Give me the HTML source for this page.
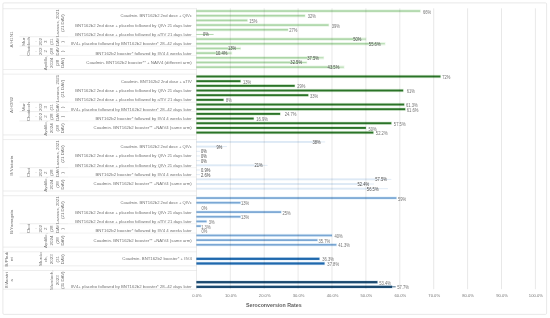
<!DOCTYPE html>
<html lang="en">
<head>
<meta charset="utf-8">
<title>Seroconversion Rates</title>
<style>
html,body{margin:0;padding:0;background:#fff;}
body{width:550px;height:318px;overflow:hidden;}
svg{display:block;font-family:"Liberation Sans",sans-serif;}
</style>
</head>
<body>
<svg width="550" height="318" viewBox="0 0 550 318">
<rect x="0" y="0" width="550" height="318" fill="#ffffff"/>
<defs><filter id="soft" x="-2%" y="-2%" width="104%" height="104%"><feGaussianBlur stdDeviation="0.3"/></filter></defs>
<rect x="2.9" y="2.9" width="543.7" height="311.5" rx="1.2" fill="#fff" stroke="#e2e2e2" stroke-width="0.8"/>
<rect x="196.40" y="9.39" width="224.34" height="3.3" fill="#e9f6e7"/>
<rect x="196.40" y="14.06" width="109.08" height="3.3" fill="#e9f6e7"/>
<rect x="196.40" y="18.74" width="51.45" height="3.3" fill="#e9f6e7"/>
<rect x="196.40" y="23.41" width="132.81" height="3.3" fill="#e9f6e7"/>
<rect x="196.40" y="28.09" width="92.13" height="3.3" fill="#e9f6e7"/>
<rect x="196.40" y="37.44" width="170.10" height="3.3" fill="#e9f6e7"/>
<rect x="196.40" y="42.11" width="189.08" height="3.3" fill="#e9f6e7"/>
<rect x="196.40" y="46.79" width="44.67" height="3.3" fill="#e9f6e7"/>
<rect x="196.40" y="51.46" width="35.86" height="3.3" fill="#e9f6e7"/>
<rect x="196.40" y="56.14" width="127.72" height="3.3" fill="#e9f6e7"/>
<rect x="196.40" y="60.81" width="110.77" height="3.3" fill="#e9f6e7"/>
<rect x="196.40" y="65.49" width="148.06" height="3.3" fill="#e9f6e7"/>
<rect x="196.40" y="74.74" width="244.68" height="3.5" fill="#e4f3e2"/>
<rect x="196.40" y="79.41" width="44.67" height="3.5" fill="#e4f3e2"/>
<rect x="196.40" y="84.09" width="98.91" height="3.5" fill="#e4f3e2"/>
<rect x="196.40" y="88.76" width="207.39" height="3.5" fill="#e4f3e2"/>
<rect x="196.40" y="93.44" width="112.47" height="3.5" fill="#e4f3e2"/>
<rect x="196.40" y="98.11" width="27.72" height="3.5" fill="#e4f3e2"/>
<rect x="196.40" y="102.79" width="208.41" height="3.5" fill="#e4f3e2"/>
<rect x="196.40" y="107.46" width="209.42" height="3.5" fill="#e4f3e2"/>
<rect x="196.40" y="112.14" width="84.33" height="3.5" fill="#e4f3e2"/>
<rect x="196.40" y="116.81" width="57.89" height="3.5" fill="#e4f3e2"/>
<rect x="196.40" y="121.49" width="195.53" height="3.5" fill="#e4f3e2"/>
<rect x="196.40" y="126.16" width="170.10" height="3.5" fill="#e4f3e2"/>
<rect x="196.40" y="130.84" width="177.56" height="3.5" fill="#e4f3e2"/>
<rect x="196.40" y="196.34" width="200.61" height="3.4" fill="#e9f4fc"/>
<rect x="196.40" y="201.01" width="44.67" height="3.4" fill="#e9f4fc"/>
<rect x="196.40" y="210.36" width="85.35" height="3.4" fill="#e9f4fc"/>
<rect x="196.40" y="215.04" width="44.67" height="3.4" fill="#e9f4fc"/>
<rect x="196.40" y="219.71" width="10.77" height="3.4" fill="#e9f4fc"/>
<rect x="196.40" y="224.39" width="5.01" height="3.4" fill="#e9f4fc"/>
<rect x="196.40" y="233.74" width="136.20" height="3.4" fill="#e9f4fc"/>
<rect x="196.40" y="238.41" width="121.62" height="3.4" fill="#e9f4fc"/>
<rect x="196.40" y="243.09" width="140.61" height="3.4" fill="#e9f4fc"/>
<rect x="196.40" y="256.96" width="123.66" height="3.7" fill="#e3effa"/>
<rect x="196.40" y="261.64" width="128.74" height="3.7" fill="#e3effa"/>
<rect x="196.40" y="280.34" width="181.63" height="3.7" fill="#e0ebf5"/>
<rect x="196.40" y="285.01" width="196.20" height="3.7" fill="#e0ebf5"/>
<line x1="3.00" y1="8.70" x2="196.40" y2="8.70" stroke="#e0e0e0" stroke-width="0.6"/>
<line x1="3.00" y1="69.47" x2="196.40" y2="69.47" stroke="#e0e0e0" stroke-width="0.6"/>
<line x1="3.00" y1="74.15" x2="196.40" y2="74.15" stroke="#e0e0e0" stroke-width="0.6"/>
<line x1="3.00" y1="134.92" x2="196.40" y2="134.92" stroke="#e0e0e0" stroke-width="0.6"/>
<line x1="3.00" y1="139.60" x2="196.40" y2="139.60" stroke="#e0e0e0" stroke-width="0.6"/>
<line x1="3.00" y1="191.02" x2="196.40" y2="191.02" stroke="#e0e0e0" stroke-width="0.6"/>
<line x1="3.00" y1="195.70" x2="196.40" y2="195.70" stroke="#e0e0e0" stroke-width="0.6"/>
<line x1="3.00" y1="247.12" x2="196.40" y2="247.12" stroke="#e0e0e0" stroke-width="0.6"/>
<line x1="3.00" y1="251.80" x2="196.40" y2="251.80" stroke="#e0e0e0" stroke-width="0.6"/>
<line x1="3.00" y1="265.82" x2="196.40" y2="265.82" stroke="#e0e0e0" stroke-width="0.6"/>
<line x1="3.00" y1="270.50" x2="196.40" y2="270.50" stroke="#e0e0e0" stroke-width="0.6"/>
<line x1="3.00" y1="289.20" x2="196.40" y2="289.20" stroke="#e0e0e0" stroke-width="0.6"/>
<line x1="19.50" y1="36.75" x2="68.00" y2="36.75" stroke="#e0e0e0" stroke-width="0.6"/>
<line x1="68.00" y1="36.75" x2="196.40" y2="36.75" stroke="#ebebeb" stroke-width="0.6"/>
<line x1="19.50" y1="46.10" x2="68.00" y2="46.10" stroke="#e0e0e0" stroke-width="0.6"/>
<line x1="68.00" y1="46.10" x2="196.40" y2="46.10" stroke="#ebebeb" stroke-width="0.6"/>
<line x1="19.50" y1="55.45" x2="68.00" y2="55.45" stroke="#e0e0e0" stroke-width="0.6"/>
<line x1="68.00" y1="55.45" x2="196.40" y2="55.45" stroke="#ebebeb" stroke-width="0.6"/>
<line x1="19.50" y1="102.20" x2="68.00" y2="102.20" stroke="#e0e0e0" stroke-width="0.6"/>
<line x1="68.00" y1="102.20" x2="196.40" y2="102.20" stroke="#ebebeb" stroke-width="0.6"/>
<line x1="19.50" y1="111.55" x2="68.00" y2="111.55" stroke="#e0e0e0" stroke-width="0.6"/>
<line x1="68.00" y1="111.55" x2="196.40" y2="111.55" stroke="#ebebeb" stroke-width="0.6"/>
<line x1="19.50" y1="120.90" x2="68.00" y2="120.90" stroke="#e0e0e0" stroke-width="0.6"/>
<line x1="68.00" y1="120.90" x2="196.40" y2="120.90" stroke="#ebebeb" stroke-width="0.6"/>
<line x1="19.50" y1="167.65" x2="68.00" y2="167.65" stroke="#e0e0e0" stroke-width="0.6"/>
<line x1="68.00" y1="167.65" x2="196.40" y2="167.65" stroke="#ebebeb" stroke-width="0.6"/>
<line x1="19.50" y1="177.00" x2="68.00" y2="177.00" stroke="#e0e0e0" stroke-width="0.6"/>
<line x1="68.00" y1="177.00" x2="196.40" y2="177.00" stroke="#ebebeb" stroke-width="0.6"/>
<line x1="19.50" y1="223.75" x2="68.00" y2="223.75" stroke="#e0e0e0" stroke-width="0.6"/>
<line x1="68.00" y1="223.75" x2="196.40" y2="223.75" stroke="#ebebeb" stroke-width="0.6"/>
<line x1="19.50" y1="233.10" x2="68.00" y2="233.10" stroke="#e0e0e0" stroke-width="0.6"/>
<line x1="68.00" y1="233.10" x2="196.40" y2="233.10" stroke="#ebebeb" stroke-width="0.6"/>
<rect x="196.40" y="10.24" width="223.74" height="1.6" fill="#abd5a6"/>
<rect x="196.40" y="14.91" width="108.48" height="1.6" fill="#abd5a6"/>
<rect x="196.40" y="19.59" width="50.85" height="1.6" fill="#abd5a6"/>
<rect x="196.40" y="24.26" width="132.21" height="1.6" fill="#abd5a6"/>
<rect x="196.40" y="28.94" width="91.53" height="1.6" fill="#abd5a6"/>
<rect x="196.40" y="33.96" width="17.20" height="0.9" fill="#abd5a6"/>
<rect x="196.40" y="38.29" width="156.92" height="1.6" fill="#abd5a6"/>
<rect x="353.32" y="38.64" width="12.58" height="0.9" fill="#abd5a6"/>
<rect x="196.40" y="42.96" width="172.43" height="1.6" fill="#abd5a6"/>
<rect x="368.83" y="43.31" width="16.06" height="0.9" fill="#abd5a6"/>
<rect x="196.40" y="47.64" width="31.52" height="1.6" fill="#abd5a6"/>
<rect x="227.92" y="47.99" width="12.55" height="0.9" fill="#abd5a6"/>
<rect x="196.40" y="52.31" width="19.23" height="1.6" fill="#abd5a6"/>
<rect x="215.63" y="52.66" width="16.03" height="0.9" fill="#abd5a6"/>
<rect x="196.40" y="56.99" width="110.88" height="1.6" fill="#abd5a6"/>
<rect x="307.28" y="57.34" width="16.24" height="0.9" fill="#abd5a6"/>
<rect x="196.40" y="61.66" width="93.93" height="1.6" fill="#abd5a6"/>
<rect x="290.33" y="62.01" width="16.24" height="0.9" fill="#abd5a6"/>
<rect x="196.40" y="66.34" width="131.22" height="1.6" fill="#abd5a6"/>
<rect x="327.62" y="66.69" width="16.24" height="0.9" fill="#abd5a6"/>
<rect x="196.40" y="75.51" width="244.08" height="1.95" fill="#2b7328"/>
<rect x="196.40" y="80.19" width="44.07" height="1.95" fill="#2b7328"/>
<rect x="196.40" y="84.86" width="98.31" height="1.95" fill="#2b7328"/>
<rect x="196.40" y="89.54" width="206.79" height="1.95" fill="#2b7328"/>
<rect x="196.40" y="94.21" width="111.87" height="1.95" fill="#2b7328"/>
<rect x="196.40" y="98.89" width="27.12" height="1.95" fill="#2b7328"/>
<rect x="196.40" y="103.56" width="207.81" height="1.95" fill="#2b7328"/>
<rect x="196.40" y="108.24" width="208.82" height="1.95" fill="#2b7328"/>
<rect x="196.40" y="112.91" width="83.73" height="1.95" fill="#2b7328"/>
<rect x="196.40" y="117.59" width="57.29" height="1.95" fill="#2b7328"/>
<rect x="196.40" y="122.26" width="194.93" height="1.95" fill="#2b7328"/>
<rect x="196.40" y="126.94" width="169.50" height="1.95" fill="#2b7328"/>
<rect x="196.40" y="131.61" width="176.96" height="1.95" fill="#2b7328"/>
<rect x="196.40" y="140.99" width="116.16" height="1.9" fill="#dde9f5"/>
<rect x="312.56" y="141.49" width="12.66" height="0.9" fill="#dde9f5"/>
<rect x="196.40" y="145.66" width="20.12" height="1.9" fill="#dde9f5"/>
<rect x="216.52" y="146.16" width="10.39" height="0.9" fill="#dde9f5"/>
<rect x="196.40" y="150.84" width="3.60" height="0.9" fill="#dde9f5"/>
<rect x="196.40" y="155.51" width="3.60" height="0.9" fill="#dde9f5"/>
<rect x="196.40" y="160.19" width="3.60" height="0.9" fill="#dde9f5"/>
<rect x="196.40" y="164.36" width="58.12" height="1.9" fill="#dde9f5"/>
<rect x="254.52" y="164.86" width="13.07" height="0.9" fill="#dde9f5"/>
<rect x="196.40" y="169.54" width="3.60" height="0.9" fill="#dde9f5"/>
<rect x="196.40" y="174.21" width="3.60" height="0.9" fill="#dde9f5"/>
<rect x="196.40" y="178.39" width="178.83" height="1.9" fill="#dde9f5"/>
<rect x="375.23" y="178.89" width="16.10" height="0.9" fill="#dde9f5"/>
<rect x="196.40" y="183.06" width="161.03" height="1.9" fill="#dde9f5"/>
<rect x="357.43" y="183.56" width="16.61" height="0.9" fill="#dde9f5"/>
<rect x="196.40" y="187.74" width="170.43" height="1.9" fill="#dde9f5"/>
<rect x="366.83" y="188.24" width="21.11" height="0.9" fill="#dde9f5"/>
<rect x="196.40" y="197.16" width="200.01" height="1.75" fill="#7aa7d4"/>
<rect x="196.40" y="201.84" width="44.07" height="1.75" fill="#7aa7d4"/>
<rect x="196.40" y="211.19" width="84.75" height="1.75" fill="#7aa7d4"/>
<rect x="196.40" y="215.86" width="44.07" height="1.75" fill="#7aa7d4"/>
<rect x="196.40" y="220.54" width="10.17" height="1.75" fill="#7aa7d4"/>
<rect x="196.40" y="225.21" width="4.41" height="1.75" fill="#7aa7d4"/>
<rect x="196.40" y="234.56" width="135.60" height="1.75" fill="#7aa7d4"/>
<rect x="196.40" y="239.24" width="121.02" height="1.75" fill="#7aa7d4"/>
<rect x="196.40" y="243.91" width="140.01" height="1.75" fill="#7aa7d4"/>
<rect x="196.40" y="257.69" width="123.06" height="2.25" fill="#1f68ad"/>
<rect x="196.40" y="262.36" width="128.14" height="2.25" fill="#1f68ad"/>
<rect x="196.40" y="281.06" width="181.03" height="2.25" fill="#1b4a70"/>
<rect x="196.40" y="285.74" width="195.60" height="2.25" fill="#1b4a70"/>
<rect x="392.00" y="286.46" width="3.70" height="0.8" fill="#1b4a70"/>
<g style="mix-blend-mode:multiply">
<line x1="196.40" y1="8.30" x2="196.40" y2="289.20" stroke="#d9d9d9" stroke-width="0.6"/>
<line x1="230.30" y1="8.30" x2="230.30" y2="289.20" stroke="#d9d9d9" stroke-width="0.6"/>
<line x1="264.20" y1="8.30" x2="264.20" y2="289.20" stroke="#d9d9d9" stroke-width="0.6"/>
<line x1="298.10" y1="8.30" x2="298.10" y2="289.20" stroke="#d9d9d9" stroke-width="0.6"/>
<line x1="332.00" y1="8.30" x2="332.00" y2="289.20" stroke="#d9d9d9" stroke-width="0.6"/>
<line x1="365.90" y1="8.30" x2="365.90" y2="289.20" stroke="#d9d9d9" stroke-width="0.6"/>
<line x1="399.80" y1="8.30" x2="399.80" y2="289.20" stroke="#d9d9d9" stroke-width="0.6"/>
<line x1="433.70" y1="8.30" x2="433.70" y2="289.20" stroke="#d9d9d9" stroke-width="0.6"/>
<line x1="467.60" y1="8.30" x2="467.60" y2="289.20" stroke="#d9d9d9" stroke-width="0.6"/>
<line x1="501.50" y1="8.30" x2="501.50" y2="289.20" stroke="#d9d9d9" stroke-width="0.6"/>
<line x1="535.40" y1="8.30" x2="535.40" y2="289.20" stroke="#d9d9d9" stroke-width="0.6"/>
</g>
<g filter="url(#soft)">
<text x="423.04" y="13.64" font-size="4.60" text-anchor="start" fill="#747474" textLength="8.16" lengthAdjust="spacingAndGlyphs">66%</text>
<text x="307.68" y="18.31" font-size="4.60" text-anchor="start" fill="#747474" textLength="8.16" lengthAdjust="spacingAndGlyphs">32%</text>
<text x="249.25" y="22.99" font-size="4.60" text-anchor="start" fill="#747474" textLength="8.16" lengthAdjust="spacingAndGlyphs">15%</text>
<text x="331.71" y="27.66" font-size="4.60" text-anchor="start" fill="#747474" textLength="8.16" lengthAdjust="spacingAndGlyphs">39%</text>
<text x="289.33" y="32.34" font-size="4.60" text-anchor="start" fill="#747474" textLength="8.16" lengthAdjust="spacingAndGlyphs">27%</text>
<text x="205.80" y="36.31" font-size="4.60" text-anchor="middle" fill="#4a4a4a" textLength="5.77" lengthAdjust="spacingAndGlyphs">0%</text>
<text x="357.40" y="40.99" font-size="4.60" text-anchor="middle" fill="#4a4a4a" textLength="8.16" lengthAdjust="spacingAndGlyphs">50%</text>
<text x="374.70" y="45.66" font-size="4.60" text-anchor="middle" fill="#4a4a4a" textLength="11.74" lengthAdjust="spacingAndGlyphs">55.6%</text>
<text x="232.00" y="50.34" font-size="4.60" text-anchor="middle" fill="#4a4a4a" textLength="8.16" lengthAdjust="spacingAndGlyphs">13%</text>
<text x="221.50" y="55.01" font-size="4.60" text-anchor="middle" fill="#4a4a4a" textLength="11.74" lengthAdjust="spacingAndGlyphs">10.4%</text>
<text x="313.15" y="59.69" font-size="4.60" text-anchor="middle" fill="#4a4a4a" textLength="11.74" lengthAdjust="spacingAndGlyphs">37.5%</text>
<text x="296.20" y="64.36" font-size="4.60" text-anchor="middle" fill="#4a4a4a" textLength="11.74" lengthAdjust="spacingAndGlyphs">32.5%</text>
<text x="333.49" y="69.04" font-size="4.60" text-anchor="middle" fill="#4a4a4a" textLength="11.74" lengthAdjust="spacingAndGlyphs">43.5%</text>
<text x="442.18" y="79.09" font-size="4.60" text-anchor="start" fill="#747474" textLength="8.16" lengthAdjust="spacingAndGlyphs">72%</text>
<text x="242.97" y="83.76" font-size="4.60" text-anchor="start" fill="#747474" textLength="8.16" lengthAdjust="spacingAndGlyphs">13%</text>
<text x="297.21" y="88.44" font-size="4.60" text-anchor="start" fill="#747474" textLength="8.16" lengthAdjust="spacingAndGlyphs">29%</text>
<text x="406.69" y="93.11" font-size="4.60" text-anchor="start" fill="#747474" textLength="8.16" lengthAdjust="spacingAndGlyphs">61%</text>
<text x="310.07" y="97.79" font-size="4.60" text-anchor="start" fill="#747474" textLength="8.16" lengthAdjust="spacingAndGlyphs">33%</text>
<text x="226.02" y="102.46" font-size="4.60" text-anchor="start" fill="#747474" textLength="5.77" lengthAdjust="spacingAndGlyphs">8%</text>
<text x="405.91" y="107.14" font-size="4.60" text-anchor="start" fill="#747474" textLength="11.74" lengthAdjust="spacingAndGlyphs">61.3%</text>
<text x="406.82" y="111.81" font-size="4.60" text-anchor="start" fill="#747474" textLength="11.74" lengthAdjust="spacingAndGlyphs">61.6%</text>
<text x="284.73" y="116.49" font-size="4.60" text-anchor="start" fill="#747474" textLength="11.74" lengthAdjust="spacingAndGlyphs">24.7%</text>
<text x="256.19" y="121.16" font-size="4.60" text-anchor="start" fill="#747474" textLength="11.74" lengthAdjust="spacingAndGlyphs">16.9%</text>
<text x="393.83" y="125.84" font-size="4.60" text-anchor="start" fill="#747474" textLength="11.74" lengthAdjust="spacingAndGlyphs">57.5%</text>
<text x="368.40" y="130.51" font-size="4.60" text-anchor="start" fill="#747474" textLength="8.16" lengthAdjust="spacingAndGlyphs">50%</text>
<text x="375.86" y="135.19" font-size="4.60" text-anchor="start" fill="#747474" textLength="11.74" lengthAdjust="spacingAndGlyphs">52.2%</text>
<text x="316.64" y="143.84" font-size="4.60" text-anchor="middle" fill="#4a4a4a" textLength="8.16" lengthAdjust="spacingAndGlyphs">38%</text>
<text x="219.40" y="148.51" font-size="4.60" text-anchor="middle" fill="#4a4a4a" textLength="5.77" lengthAdjust="spacingAndGlyphs">9%</text>
<text x="203.90" y="153.19" font-size="4.60" text-anchor="middle" fill="#4a4a4a" textLength="5.77" lengthAdjust="spacingAndGlyphs">0%</text>
<text x="203.90" y="157.86" font-size="4.60" text-anchor="middle" fill="#4a4a4a" textLength="5.77" lengthAdjust="spacingAndGlyphs">0%</text>
<text x="203.90" y="162.54" font-size="4.60" text-anchor="middle" fill="#4a4a4a" textLength="5.77" lengthAdjust="spacingAndGlyphs">0%</text>
<text x="258.60" y="167.21" font-size="4.60" text-anchor="middle" fill="#4a4a4a" textLength="8.16" lengthAdjust="spacingAndGlyphs">21%</text>
<text x="205.70" y="171.89" font-size="4.60" text-anchor="middle" fill="#4a4a4a" textLength="9.35" lengthAdjust="spacingAndGlyphs">0.9%</text>
<text x="205.70" y="176.56" font-size="4.60" text-anchor="middle" fill="#4a4a4a" textLength="9.35" lengthAdjust="spacingAndGlyphs">2.6%</text>
<text x="381.10" y="181.24" font-size="4.60" text-anchor="middle" fill="#4a4a4a" textLength="11.74" lengthAdjust="spacingAndGlyphs">57.5%</text>
<text x="363.30" y="185.91" font-size="4.60" text-anchor="middle" fill="#4a4a4a" textLength="11.74" lengthAdjust="spacingAndGlyphs">52.4%</text>
<text x="372.70" y="190.59" font-size="4.60" text-anchor="middle" fill="#4a4a4a" textLength="11.74" lengthAdjust="spacingAndGlyphs">56.5%</text>
<text x="398.01" y="200.64" font-size="4.60" text-anchor="start" fill="#747474" textLength="8.16" lengthAdjust="spacingAndGlyphs">59%</text>
<text x="240.97" y="205.31" font-size="4.60" text-anchor="start" fill="#747474" textLength="8.16" lengthAdjust="spacingAndGlyphs">13%</text>
<text x="201.60" y="209.99" font-size="4.60" text-anchor="start" fill="#747474" textLength="5.77" lengthAdjust="spacingAndGlyphs">0%</text>
<text x="282.55" y="214.66" font-size="4.60" text-anchor="start" fill="#747474" textLength="8.16" lengthAdjust="spacingAndGlyphs">25%</text>
<text x="240.97" y="219.34" font-size="4.60" text-anchor="start" fill="#747474" textLength="8.16" lengthAdjust="spacingAndGlyphs">13%</text>
<text x="208.67" y="224.01" font-size="4.60" text-anchor="start" fill="#747474" textLength="5.77" lengthAdjust="spacingAndGlyphs">3%</text>
<text x="201.21" y="228.69" font-size="4.60" text-anchor="start" fill="#747474" textLength="9.35" lengthAdjust="spacingAndGlyphs">1.3%</text>
<text x="201.60" y="233.36" font-size="4.60" text-anchor="start" fill="#747474" textLength="5.77" lengthAdjust="spacingAndGlyphs">0%</text>
<text x="334.50" y="238.04" font-size="4.60" text-anchor="start" fill="#747474" textLength="8.16" lengthAdjust="spacingAndGlyphs">40%</text>
<text x="318.42" y="242.71" font-size="4.60" text-anchor="start" fill="#747474" textLength="11.74" lengthAdjust="spacingAndGlyphs">35.7%</text>
<text x="338.21" y="247.39" font-size="4.60" text-anchor="start" fill="#747474" textLength="11.74" lengthAdjust="spacingAndGlyphs">41.3%</text>
<text x="322.16" y="261.41" font-size="4.60" text-anchor="start" fill="#747474" textLength="11.74" lengthAdjust="spacingAndGlyphs">36.3%</text>
<text x="327.34" y="266.09" font-size="4.60" text-anchor="start" fill="#747474" textLength="11.74" lengthAdjust="spacingAndGlyphs">37.8%</text>
<text x="379.13" y="284.79" font-size="4.60" text-anchor="start" fill="#747474" textLength="11.74" lengthAdjust="spacingAndGlyphs">53.4%</text>
<text x="397.30" y="289.46" font-size="4.60" text-anchor="start" fill="#747474" textLength="11.74" lengthAdjust="spacingAndGlyphs">57.7%</text>
<text x="191.80" y="17.16" font-size="4.40" text-anchor="end" fill="#747474" textLength="71.24" lengthAdjust="spacingAndGlyphs">Coadmin. BNT162b2 2nd dose + QIVc</text>
<text x="191.80" y="26.51" font-size="4.40" text-anchor="end" fill="#747474" textLength="116.63" lengthAdjust="spacingAndGlyphs">BNT162b2 2nd dose + placebo followed by QIVr 21 days later</text>
<text x="191.80" y="35.86" font-size="4.40" text-anchor="end" fill="#747474" textLength="116.49" lengthAdjust="spacingAndGlyphs">BNT162b2 2nd dose + placebo followed by aTIV 21 days later</text>
<text x="191.80" y="45.21" font-size="4.40" text-anchor="end" fill="#747474" textLength="121.12" lengthAdjust="spacingAndGlyphs">IIV4+ placebo followed by BNT162b2 booster* 28–42 days later</text>
<text x="191.80" y="54.56" font-size="4.40" text-anchor="end" fill="#747474" textLength="96.42" lengthAdjust="spacingAndGlyphs">BNT162b2 booster* followed by IIV4 4 weeks later</text>
<text x="191.80" y="63.91" font-size="4.40" text-anchor="end" fill="#747474" textLength="105.54" lengthAdjust="spacingAndGlyphs">Coadmin. BNT162b2 booster** + NAIV4 (different arm)</text>
<text x="191.80" y="82.61" font-size="4.40" text-anchor="end" fill="#747474" textLength="70.86" lengthAdjust="spacingAndGlyphs">Coadmin. BNT162b2 2nd dose + aTIV</text>
<text x="191.80" y="91.96" font-size="4.40" text-anchor="end" fill="#747474" textLength="116.63" lengthAdjust="spacingAndGlyphs">BNT162b2 2nd dose + placebo followed by QIVr 21 days later</text>
<text x="191.80" y="101.31" font-size="4.40" text-anchor="end" fill="#747474" textLength="116.49" lengthAdjust="spacingAndGlyphs">BNT162b2 2nd dose + placebo followed by aTIV 21 days later</text>
<text x="191.80" y="110.66" font-size="4.40" text-anchor="end" fill="#747474" textLength="121.12" lengthAdjust="spacingAndGlyphs">IIV4+ placebo followed by BNT162b2 booster* 28–42 days later</text>
<text x="191.80" y="120.01" font-size="4.40" text-anchor="end" fill="#747474" textLength="96.42" lengthAdjust="spacingAndGlyphs">BNT162b2 booster* followed by IIV4 4 weeks later</text>
<text x="191.80" y="129.36" font-size="4.40" text-anchor="end" fill="#747474" textLength="98.20" lengthAdjust="spacingAndGlyphs">Coadmin. BNT162b2 booster** +NAIV4 (same arm)</text>
<text x="191.80" y="148.06" font-size="4.40" text-anchor="end" fill="#747474" textLength="71.24" lengthAdjust="spacingAndGlyphs">Coadmin. BNT162b2 2nd dose + QIVc</text>
<text x="191.80" y="157.41" font-size="4.40" text-anchor="end" fill="#747474" textLength="116.63" lengthAdjust="spacingAndGlyphs">BNT162b2 2nd dose + placebo followed by QIVr 21 days later</text>
<text x="191.80" y="166.76" font-size="4.40" text-anchor="end" fill="#747474" textLength="116.63" lengthAdjust="spacingAndGlyphs">BNT162b2 2nd dose + placebo followed by QIVr 21 days later</text>
<text x="191.80" y="176.11" font-size="4.40" text-anchor="end" fill="#747474" textLength="96.42" lengthAdjust="spacingAndGlyphs">BNT162b2 booster* followed by IIV4 4 weeks later</text>
<text x="191.80" y="185.46" font-size="4.40" text-anchor="end" fill="#747474" textLength="98.20" lengthAdjust="spacingAndGlyphs">Coadmin. BNT162b2 booster** +NAIV4 (same arm)</text>
<text x="191.80" y="204.16" font-size="4.40" text-anchor="end" fill="#747474" textLength="71.24" lengthAdjust="spacingAndGlyphs">Coadmin. BNT162b2 2nd dose + QIVc</text>
<text x="191.80" y="213.51" font-size="4.40" text-anchor="end" fill="#747474" textLength="116.63" lengthAdjust="spacingAndGlyphs">BNT162b2 2nd dose + placebo followed by QIVr 21 days later</text>
<text x="191.80" y="222.86" font-size="4.40" text-anchor="end" fill="#747474" textLength="116.49" lengthAdjust="spacingAndGlyphs">BNT162b2 2nd dose + placebo followed by aTIV 21 days later</text>
<text x="191.80" y="232.21" font-size="4.40" text-anchor="end" fill="#747474" textLength="96.42" lengthAdjust="spacingAndGlyphs">BNT162b2 booster* followed by IIV4 4 weeks later</text>
<text x="191.80" y="241.56" font-size="4.40" text-anchor="end" fill="#747474" textLength="98.20" lengthAdjust="spacingAndGlyphs">Coadmin. BNT162b2 booster** +NAIV4 (same arm)</text>
<text x="191.80" y="260.26" font-size="4.40" text-anchor="end" fill="#747474" textLength="69.43" lengthAdjust="spacingAndGlyphs">Coadmin. BNT162b2 booster* + IIV4</text>
<text x="191.80" y="288.31" font-size="4.40" text-anchor="end" fill="#747474" textLength="121.12" lengthAdjust="spacingAndGlyphs">IIV4+ placebo followed by BNT162b2 booster* 28–42 days later</text>
<text x="58.65" y="23.12" font-size="4.40" text-anchor="middle" fill="#747474" textLength="27.38" lengthAdjust="spacingAndGlyphs" transform="rotate(-90 58.65 23.12)">Lazarus, 2021</text>
<text x="64.30" y="23.12" font-size="4.40" text-anchor="middle" fill="#747474" textLength="17.59" lengthAdjust="spacingAndGlyphs" transform="rotate(-90 64.30 23.12)">(21 DAV)</text>
<text x="24.75" y="41.82" font-size="4.40" text-anchor="middle" fill="#747474" textLength="8.57" lengthAdjust="spacingAndGlyphs" transform="rotate(-90 24.75 41.82)">Mur</text>
<text x="30.40" y="41.82" font-size="4.40" text-anchor="middle" fill="#747474" textLength="9.92" lengthAdjust="spacingAndGlyphs" transform="rotate(-90 30.40 41.82)">doch</text>
<text x="36.05" y="41.82" font-size="4.40" text-anchor="middle" fill="#747474" transform="rotate(-90 36.05 41.82)">,</text>
<text x="41.70" y="41.82" font-size="4.40" text-anchor="middle" fill="#747474" textLength="7.54" lengthAdjust="spacingAndGlyphs" transform="rotate(-90 41.70 41.82)">202</text>
<text x="47.35" y="41.82" font-size="4.40" text-anchor="middle" fill="#747474" transform="rotate(-90 47.35 41.82)">3</text>
<text x="53.00" y="41.82" font-size="4.40" text-anchor="middle" fill="#747474" textLength="6.53" lengthAdjust="spacingAndGlyphs" transform="rotate(-90 53.00 41.82)">(31</text>
<text x="58.65" y="41.82" font-size="4.40" text-anchor="middle" fill="#747474" textLength="8.44" lengthAdjust="spacingAndGlyphs" transform="rotate(-90 58.65 41.82)">DAV</text>
<text x="64.30" y="41.82" font-size="4.40" text-anchor="middle" fill="#747474" transform="rotate(-90 64.30 41.82)">)</text>
<text x="30.40" y="51.17" font-size="4.40" text-anchor="middle" fill="#747474" textLength="9.00" lengthAdjust="spacingAndGlyphs" transform="rotate(-90 30.40 51.17)">Choi</text>
<text x="36.05" y="51.17" font-size="4.40" text-anchor="middle" fill="#747474" transform="rotate(-90 36.05 51.17)">,</text>
<text x="41.70" y="51.17" font-size="4.40" text-anchor="middle" fill="#747474" textLength="7.54" lengthAdjust="spacingAndGlyphs" transform="rotate(-90 41.70 51.17)">202</text>
<text x="47.35" y="51.17" font-size="4.40" text-anchor="middle" fill="#747474" transform="rotate(-90 47.35 51.17)">2</text>
<text x="53.00" y="51.17" font-size="4.40" text-anchor="middle" fill="#747474" textLength="6.53" lengthAdjust="spacingAndGlyphs" transform="rotate(-90 53.00 51.17)">(28</text>
<text x="58.65" y="51.17" font-size="4.40" text-anchor="middle" fill="#747474" textLength="8.44" lengthAdjust="spacingAndGlyphs" transform="rotate(-90 58.65 51.17)">DAV</text>
<text x="64.30" y="51.17" font-size="4.40" text-anchor="middle" fill="#747474" transform="rotate(-90 64.30 51.17)">)</text>
<text x="47.35" y="62.86" font-size="4.40" text-anchor="middle" fill="#747474" textLength="14.73" lengthAdjust="spacingAndGlyphs" transform="rotate(-90 47.35 62.86)">Aydillo,</text>
<text x="53.00" y="62.86" font-size="4.40" text-anchor="middle" fill="#747474" textLength="10.05" lengthAdjust="spacingAndGlyphs" transform="rotate(-90 53.00 62.86)">2024</text>
<text x="58.65" y="62.86" font-size="4.40" text-anchor="middle" fill="#747474" textLength="6.53" lengthAdjust="spacingAndGlyphs" transform="rotate(-90 58.65 62.86)">(28</text>
<text x="64.30" y="62.86" font-size="4.40" text-anchor="middle" fill="#747474" textLength="9.94" lengthAdjust="spacingAndGlyphs" transform="rotate(-90 64.30 62.86)">DAV)</text>
<text x="58.65" y="88.58" font-size="4.40" text-anchor="middle" fill="#747474" textLength="27.38" lengthAdjust="spacingAndGlyphs" transform="rotate(-90 58.65 88.58)">Lazarus, 2021</text>
<text x="64.30" y="88.58" font-size="4.40" text-anchor="middle" fill="#747474" textLength="17.59" lengthAdjust="spacingAndGlyphs" transform="rotate(-90 64.30 88.58)">(21 DAV)</text>
<text x="24.75" y="107.28" font-size="4.40" text-anchor="middle" fill="#747474" textLength="8.57" lengthAdjust="spacingAndGlyphs" transform="rotate(-90 24.75 107.28)">Mur</text>
<text x="30.40" y="107.28" font-size="4.40" text-anchor="middle" fill="#747474" textLength="9.92" lengthAdjust="spacingAndGlyphs" transform="rotate(-90 30.40 107.28)">doch</text>
<text x="36.05" y="107.28" font-size="4.40" text-anchor="middle" fill="#747474" transform="rotate(-90 36.05 107.28)">,</text>
<text x="41.70" y="107.28" font-size="4.40" text-anchor="middle" fill="#747474" textLength="7.54" lengthAdjust="spacingAndGlyphs" transform="rotate(-90 41.70 107.28)">202</text>
<text x="47.35" y="107.28" font-size="4.40" text-anchor="middle" fill="#747474" transform="rotate(-90 47.35 107.28)">3</text>
<text x="53.00" y="107.28" font-size="4.40" text-anchor="middle" fill="#747474" textLength="6.53" lengthAdjust="spacingAndGlyphs" transform="rotate(-90 53.00 107.28)">(31</text>
<text x="58.65" y="107.28" font-size="4.40" text-anchor="middle" fill="#747474" textLength="8.44" lengthAdjust="spacingAndGlyphs" transform="rotate(-90 58.65 107.28)">DAV</text>
<text x="64.30" y="107.28" font-size="4.40" text-anchor="middle" fill="#747474" transform="rotate(-90 64.30 107.28)">)</text>
<text x="30.40" y="116.62" font-size="4.40" text-anchor="middle" fill="#747474" textLength="9.00" lengthAdjust="spacingAndGlyphs" transform="rotate(-90 30.40 116.62)">Choi</text>
<text x="36.05" y="116.62" font-size="4.40" text-anchor="middle" fill="#747474" transform="rotate(-90 36.05 116.62)">,</text>
<text x="41.70" y="116.62" font-size="4.40" text-anchor="middle" fill="#747474" textLength="7.54" lengthAdjust="spacingAndGlyphs" transform="rotate(-90 41.70 116.62)">202</text>
<text x="47.35" y="116.62" font-size="4.40" text-anchor="middle" fill="#747474" transform="rotate(-90 47.35 116.62)">2</text>
<text x="53.00" y="116.62" font-size="4.40" text-anchor="middle" fill="#747474" textLength="6.53" lengthAdjust="spacingAndGlyphs" transform="rotate(-90 53.00 116.62)">(28</text>
<text x="58.65" y="116.62" font-size="4.40" text-anchor="middle" fill="#747474" textLength="8.44" lengthAdjust="spacingAndGlyphs" transform="rotate(-90 58.65 116.62)">DAV</text>
<text x="64.30" y="116.62" font-size="4.40" text-anchor="middle" fill="#747474" transform="rotate(-90 64.30 116.62)">)</text>
<text x="47.35" y="128.31" font-size="4.40" text-anchor="middle" fill="#747474" textLength="14.73" lengthAdjust="spacingAndGlyphs" transform="rotate(-90 47.35 128.31)">Aydillo,</text>
<text x="53.00" y="128.31" font-size="4.40" text-anchor="middle" fill="#747474" textLength="10.05" lengthAdjust="spacingAndGlyphs" transform="rotate(-90 53.00 128.31)">2024</text>
<text x="58.65" y="128.31" font-size="4.40" text-anchor="middle" fill="#747474" textLength="6.53" lengthAdjust="spacingAndGlyphs" transform="rotate(-90 58.65 128.31)">(28</text>
<text x="64.30" y="128.31" font-size="4.40" text-anchor="middle" fill="#747474" textLength="9.94" lengthAdjust="spacingAndGlyphs" transform="rotate(-90 64.30 128.31)">DAV)</text>
<text x="58.65" y="154.03" font-size="4.40" text-anchor="middle" fill="#747474" textLength="27.38" lengthAdjust="spacingAndGlyphs" transform="rotate(-90 58.65 154.03)">Lazarus, 2021</text>
<text x="64.30" y="154.03" font-size="4.40" text-anchor="middle" fill="#747474" textLength="17.59" lengthAdjust="spacingAndGlyphs" transform="rotate(-90 64.30 154.03)">(21 DAV)</text>
<text x="30.40" y="172.72" font-size="4.40" text-anchor="middle" fill="#747474" textLength="9.00" lengthAdjust="spacingAndGlyphs" transform="rotate(-90 30.40 172.72)">Choi</text>
<text x="36.05" y="172.72" font-size="4.40" text-anchor="middle" fill="#747474" transform="rotate(-90 36.05 172.72)">,</text>
<text x="41.70" y="172.72" font-size="4.40" text-anchor="middle" fill="#747474" textLength="7.54" lengthAdjust="spacingAndGlyphs" transform="rotate(-90 41.70 172.72)">202</text>
<text x="47.35" y="172.72" font-size="4.40" text-anchor="middle" fill="#747474" transform="rotate(-90 47.35 172.72)">2</text>
<text x="53.00" y="172.72" font-size="4.40" text-anchor="middle" fill="#747474" textLength="6.53" lengthAdjust="spacingAndGlyphs" transform="rotate(-90 53.00 172.72)">(28</text>
<text x="58.65" y="172.72" font-size="4.40" text-anchor="middle" fill="#747474" textLength="8.44" lengthAdjust="spacingAndGlyphs" transform="rotate(-90 58.65 172.72)">DAV</text>
<text x="64.30" y="172.72" font-size="4.40" text-anchor="middle" fill="#747474" transform="rotate(-90 64.30 172.72)">)</text>
<text x="47.35" y="184.41" font-size="4.40" text-anchor="middle" fill="#747474" textLength="14.73" lengthAdjust="spacingAndGlyphs" transform="rotate(-90 47.35 184.41)">Aydillo,</text>
<text x="53.00" y="184.41" font-size="4.40" text-anchor="middle" fill="#747474" textLength="10.05" lengthAdjust="spacingAndGlyphs" transform="rotate(-90 53.00 184.41)">2024</text>
<text x="58.65" y="184.41" font-size="4.40" text-anchor="middle" fill="#747474" textLength="6.53" lengthAdjust="spacingAndGlyphs" transform="rotate(-90 58.65 184.41)">(28</text>
<text x="64.30" y="184.41" font-size="4.40" text-anchor="middle" fill="#747474" textLength="9.94" lengthAdjust="spacingAndGlyphs" transform="rotate(-90 64.30 184.41)">DAV)</text>
<text x="58.65" y="210.12" font-size="4.40" text-anchor="middle" fill="#747474" textLength="27.38" lengthAdjust="spacingAndGlyphs" transform="rotate(-90 58.65 210.12)">Lazarus, 2021</text>
<text x="64.30" y="210.12" font-size="4.40" text-anchor="middle" fill="#747474" textLength="17.59" lengthAdjust="spacingAndGlyphs" transform="rotate(-90 64.30 210.12)">(21 DAV)</text>
<text x="30.40" y="228.82" font-size="4.40" text-anchor="middle" fill="#747474" textLength="9.00" lengthAdjust="spacingAndGlyphs" transform="rotate(-90 30.40 228.82)">Choi</text>
<text x="36.05" y="228.82" font-size="4.40" text-anchor="middle" fill="#747474" transform="rotate(-90 36.05 228.82)">,</text>
<text x="41.70" y="228.82" font-size="4.40" text-anchor="middle" fill="#747474" textLength="7.54" lengthAdjust="spacingAndGlyphs" transform="rotate(-90 41.70 228.82)">202</text>
<text x="47.35" y="228.82" font-size="4.40" text-anchor="middle" fill="#747474" transform="rotate(-90 47.35 228.82)">2</text>
<text x="53.00" y="228.82" font-size="4.40" text-anchor="middle" fill="#747474" textLength="6.53" lengthAdjust="spacingAndGlyphs" transform="rotate(-90 53.00 228.82)">(28</text>
<text x="58.65" y="228.82" font-size="4.40" text-anchor="middle" fill="#747474" textLength="8.44" lengthAdjust="spacingAndGlyphs" transform="rotate(-90 58.65 228.82)">DAV</text>
<text x="64.30" y="228.82" font-size="4.40" text-anchor="middle" fill="#747474" transform="rotate(-90 64.30 228.82)">)</text>
<text x="47.35" y="240.51" font-size="4.40" text-anchor="middle" fill="#747474" textLength="14.73" lengthAdjust="spacingAndGlyphs" transform="rotate(-90 47.35 240.51)">Aydillo,</text>
<text x="53.00" y="240.51" font-size="4.40" text-anchor="middle" fill="#747474" textLength="10.05" lengthAdjust="spacingAndGlyphs" transform="rotate(-90 53.00 240.51)">2024</text>
<text x="58.65" y="240.51" font-size="4.40" text-anchor="middle" fill="#747474" textLength="6.53" lengthAdjust="spacingAndGlyphs" transform="rotate(-90 58.65 240.51)">(28</text>
<text x="64.30" y="240.51" font-size="4.40" text-anchor="middle" fill="#747474" textLength="9.94" lengthAdjust="spacingAndGlyphs" transform="rotate(-90 64.30 240.51)">DAV)</text>
<text x="41.70" y="259.21" font-size="4.40" text-anchor="middle" fill="#747474" textLength="13.72" lengthAdjust="spacingAndGlyphs" transform="rotate(-90 41.70 259.21)">Murdo</text>
<text x="47.35" y="259.21" font-size="4.40" text-anchor="middle" fill="#747474" textLength="5.94" lengthAdjust="spacingAndGlyphs" transform="rotate(-90 47.35 259.21)">ch,</text>
<text x="53.00" y="259.21" font-size="4.40" text-anchor="middle" fill="#747474" textLength="10.05" lengthAdjust="spacingAndGlyphs" transform="rotate(-90 53.00 259.21)">2023</text>
<text x="58.65" y="259.21" font-size="4.40" text-anchor="middle" fill="#747474" textLength="6.53" lengthAdjust="spacingAndGlyphs" transform="rotate(-90 58.65 259.21)">(31</text>
<text x="64.30" y="259.21" font-size="4.40" text-anchor="middle" fill="#747474" textLength="9.94" lengthAdjust="spacingAndGlyphs" transform="rotate(-90 64.30 259.21)">DAV)</text>
<text x="53.00" y="280.25" font-size="4.40" text-anchor="middle" fill="#747474" textLength="19.65" lengthAdjust="spacingAndGlyphs" transform="rotate(-90 53.00 280.25)">Murdoch,</text>
<text x="58.65" y="280.25" font-size="4.40" text-anchor="middle" fill="#747474" textLength="10.05" lengthAdjust="spacingAndGlyphs" transform="rotate(-90 58.65 280.25)">2023</text>
<text x="64.30" y="280.25" font-size="4.40" text-anchor="middle" fill="#747474" textLength="17.59" lengthAdjust="spacingAndGlyphs" transform="rotate(-90 64.30 280.25)">(31 DAV)</text>
<text x="13.30" y="39.49" font-size="4.40" text-anchor="middle" fill="#747474" textLength="16.09" lengthAdjust="spacingAndGlyphs" transform="rotate(-90 13.30 39.49)">A/H1N1</text>
<text x="13.30" y="104.94" font-size="4.40" text-anchor="middle" fill="#747474" textLength="16.09" lengthAdjust="spacingAndGlyphs" transform="rotate(-90 13.30 104.94)">A/H3N2</text>
<text x="13.30" y="165.71" font-size="4.40" text-anchor="middle" fill="#747474" textLength="20.12" lengthAdjust="spacingAndGlyphs" transform="rotate(-90 13.30 165.71)">B/Victoria</text>
<text x="13.30" y="221.81" font-size="4.40" text-anchor="middle" fill="#747474" textLength="23.95" lengthAdjust="spacingAndGlyphs" transform="rotate(-90 13.30 221.81)">B/Yamagata</text>
<text x="7.65" y="259.21" font-size="4.40" text-anchor="middle" fill="#747474" textLength="14.63" lengthAdjust="spacingAndGlyphs" transform="rotate(-90 7.65 259.21)">B/Phuk</text>
<text x="13.30" y="259.21" font-size="4.40" text-anchor="middle" fill="#747474" textLength="4.10" lengthAdjust="spacingAndGlyphs" transform="rotate(-90 13.30 259.21)">et</text>
<text x="7.65" y="280.25" font-size="4.40" text-anchor="middle" fill="#747474" textLength="16.32" lengthAdjust="spacingAndGlyphs" transform="rotate(-90 7.65 280.25)">B/Austri</text>
<text x="13.30" y="280.25" font-size="4.40" text-anchor="middle" fill="#747474" transform="rotate(-90 13.30 280.25)">a</text>
<text x="196.90" y="297.00" font-size="4.40" text-anchor="middle" fill="#747474" textLength="9.35" lengthAdjust="spacingAndGlyphs">0.0%</text>
<text x="230.80" y="297.00" font-size="4.40" text-anchor="middle" fill="#747474" textLength="11.74" lengthAdjust="spacingAndGlyphs">10.0%</text>
<text x="264.70" y="297.00" font-size="4.40" text-anchor="middle" fill="#747474" textLength="11.74" lengthAdjust="spacingAndGlyphs">20.0%</text>
<text x="298.60" y="297.00" font-size="4.40" text-anchor="middle" fill="#747474" textLength="11.74" lengthAdjust="spacingAndGlyphs">30.0%</text>
<text x="332.50" y="297.00" font-size="4.40" text-anchor="middle" fill="#747474" textLength="11.74" lengthAdjust="spacingAndGlyphs">40.0%</text>
<text x="366.40" y="297.00" font-size="4.40" text-anchor="middle" fill="#747474" textLength="11.74" lengthAdjust="spacingAndGlyphs">50.0%</text>
<text x="400.30" y="297.00" font-size="4.40" text-anchor="middle" fill="#747474" textLength="11.74" lengthAdjust="spacingAndGlyphs">60.0%</text>
<text x="434.20" y="297.00" font-size="4.40" text-anchor="middle" fill="#747474" textLength="11.74" lengthAdjust="spacingAndGlyphs">70.0%</text>
<text x="468.10" y="297.00" font-size="4.40" text-anchor="middle" fill="#747474" textLength="11.74" lengthAdjust="spacingAndGlyphs">80.0%</text>
<text x="502.00" y="297.00" font-size="4.40" text-anchor="middle" fill="#747474" textLength="11.74" lengthAdjust="spacingAndGlyphs">90.0%</text>
<text x="535.90" y="297.00" font-size="4.40" text-anchor="middle" fill="#747474" textLength="14.13" lengthAdjust="spacingAndGlyphs">100.0%</text>
<text x="273.80" y="307.40" font-size="6.10" text-anchor="middle" fill="#5e5e5e" textLength="55.60" lengthAdjust="spacingAndGlyphs" font-weight="bold">Seroconversion Rates</text>
</g>
</svg>
</body>
</html>
